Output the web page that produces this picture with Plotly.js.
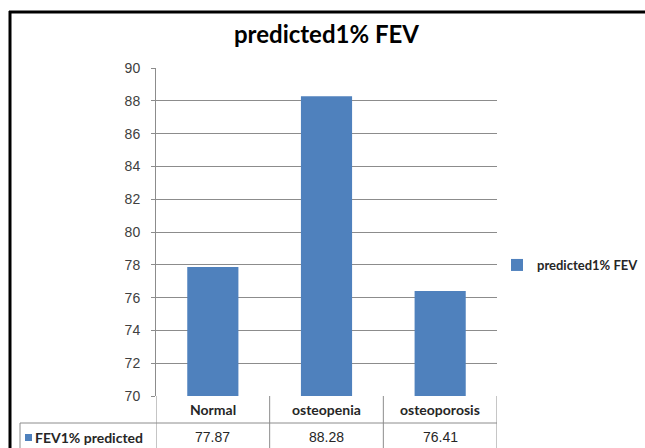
<!DOCTYPE html>
<html>
<head>
<meta charset="utf-8">
<script src="https://cdn.plot.ly/plotly-3.0.1.min.js"></script>
<style>html,body{margin:0;padding:0;background:#fff;}#chart{width:645px;height:448px;}</style>
</head>
<body>
<div id="chart"></div>
<script>
const categories = ["Normal", "osteopenia", "osteoporosis"];
const values = [77.87, 88.28, 76.41];
const valueLabels = ["77.87", "88.28", "76.41"];
const seriesName = "predicted1% FEV";
const rowLabel = "FEV1% predicted";
const chartTitle = "predicted1% FEV";

const blue = "#4F81BD";
const gridColor = "#8c8c8c";
const W = 645, H = 448;
const mL = 156, mR = 148, mT = 68, mB = 52;
const pw = W - mL - mR, ph = H - mT - mB;
const px = x => (x - mL) / pw;            // pixel x -> paper x
const py = y => (H - mB - y) / ph;        // pixel y -> paper y

const xs = categories.map((c, i) => i);

const shapes = [];
const annotations = [];
// table grid
const rowMid = py(423), rowBot = py(452);
shapes.push({type: "line", xref: "paper", yref: "paper", x0: px(20), x1: 1, y0: rowMid, y1: rowMid, line: {color: gridColor, width: 1}});
shapes.push({type: "line", xref: "paper", yref: "paper", x0: px(20), x1: px(20), y0: rowMid, y1: rowBot, line: {color: gridColor, width: 1}});
for (let i = 0; i <= categories.length; i++) {
  shapes.push({type: "line", xref: "x", yref: "paper", x0: i - 0.5, x1: i - 0.5, y0: 0, y1: rowBot, line: {color: gridColor, width: 1}});
}
categories.forEach((c, i) => {
  annotations.push({xref: "x", yref: "paper", x: xs[i], y: py(409), text: "<b>" + c + "</b>", showarrow: false,
    font: {family: "Lato, 'Open Sans', sans-serif", size: 14, color: "#262626"}, xanchor: "center", yanchor: "middle"});
  annotations.push({xref: "x", yref: "paper", x: xs[i], y: py(437), text: valueLabels[i], showarrow: false,
    font: {family: "'Liberation Sans', Arial, sans-serif", size: 14, color: "#262626"}, xanchor: "center", yanchor: "middle"});
});
// row label with marker
shapes.push({type: "rect", xref: "paper", yref: "paper", x0: px(25), x1: px(32), y0: py(441), y1: py(434), fillcolor: blue, line: {width: 0}});
annotations.push({xref: "paper", yref: "paper", x: px(33), y: py(437), text: "<b>" + rowLabel + "</b>", showarrow: false,
  font: {family: "Lato, 'Open Sans', sans-serif", size: 14, color: "#262626"}, xanchor: "left", yanchor: "middle"});
// outer frame: top and left edges (right and bottom lie outside the picture)
shapes.push({type: "line", xref: "paper", yref: "paper", x0: px(9), x1: px(660), y0: py(12), y1: py(12), line: {color: "#000", width: 3}});
shapes.push({type: "line", xref: "paper", yref: "paper", x0: px(10), x1: px(10), y0: py(11), y1: py(460), line: {color: "#000", width: 3}});

const data = [{
  type: "bar", x: xs, y: values, name: seriesName, marker: {color: blue}, width: 0.45, showlegend: true
}];

const layout = {
  width: W, height: H,
  margin: {l: mL, r: mR, t: mT, b: mB, pad: 0, autoexpand: false},
  paper_bgcolor: "#fff", plot_bgcolor: "#fff",
  title: {text: "<b>" + chartTitle + "</b>", x: 0.5, xref: "paper", y: 1 - 35 / H, yanchor: "middle",
    xanchor: "center", font: {family: "Lato, 'Open Sans', sans-serif", size: 24, color: "#000"}},
  xaxis: {range: [-0.5, 2.5], showticklabels: false, showgrid: false, zeroline: false, showline: false, ticks: "", fixedrange: true},
  yaxis: {range: [70, 90], dtick: 2, tick0: 70, showgrid: true, gridcolor: gridColor, gridwidth: 1,
    showline: true, linecolor: gridColor, linewidth: 1, ticks: "outside", ticklen: 4, tickcolor: gridColor,
    zeroline: false, tickfont: {family: "'Liberation Sans', Arial, sans-serif", size: 14, color: "#404040"}, ticklabelstandoff: 8},
  legend: {x: px(497), xanchor: "left", y: py(265), yanchor: "middle", bgcolor: "rgba(0,0,0,0)",
    font: {family: "Lato, 'Open Sans', sans-serif", size: 13, color: "#262626", weight: "bold"}, itemwidth: 30},
  shapes: shapes, annotations: annotations, showlegend: true
};
Plotly.newPlot("chart", data, layout, {displayModeBar: false, staticPlot: true});
</script>
</body>
</html>
